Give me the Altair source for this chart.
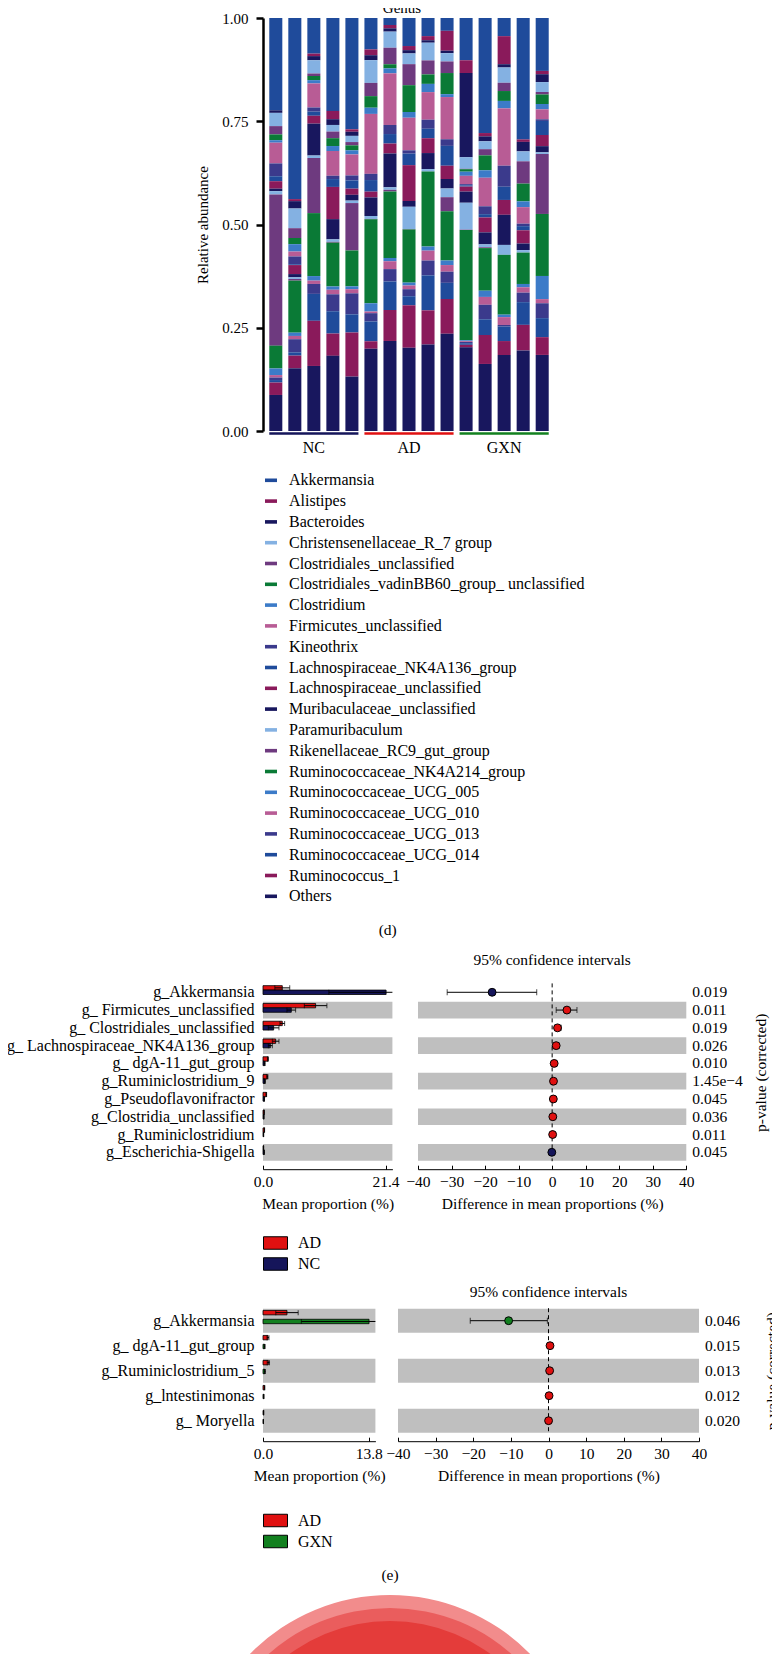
import json
import altair as alt
import pandas as pd

FONT = "Liberation Serif"
RED = "#e01010"
NAVY = "#15155a"
GREEN = "#12801f"
GRAY = "#bfbfbf"

# ---------------- (d) relative abundance at genus level ----------------
genera = [
    "Akkermansia", "Alistipes", "Bacteroides", "Christensenellaceae_R_7 group",
    "Clostridiales_unclassified", "Clostridiales_vadinBB60_group_ unclassified",
    "Clostridium", "Firmicutes_unclassified", "Kineothrix",
    "Lachnospiraceae_NK4A136_group", "Lachnospiraceae_unclassified",
    "Muribaculaceae_unclassified", "Paramuribaculum", "Rikenellaceae_RC9_gut_group",
    "Ruminococcaceae_NK4A214_group", "Ruminococcaceae_UCG_005",
    "Ruminococcaceae_UCG_010", "Ruminococcaceae_UCG_013",
    "Ruminococcaceae_UCG_014", "Ruminococcus_1", "Others",
]
palette9 = ["#1f4b9b", "#8a1a5b", "#18175e", "#84b1e2", "#6e3a7f",
            "#0a7a36", "#3c7bc8", "#b85c95", "#3b3a8c"]
genus_colors = [palette9[i % 9] for i in range(len(genera))]

samples = ["NC1", "NC2", "NC3", "NC4", "NC5", "AD1", "AD2", "AD3", "AD4", "AD5",
           "GXN1", "GXN2", "GXN3", "GXN4", "GXN5"]
groups = ["NC", "AD", "GXN"]
group_first = ["NC1", "AD1", "GXN1"]
group_last = ["NC5", "AD5", "GXN5"]
group_mid = ["NC3", "AD3", "GXN3"]
group_colors = [NAVY, RED, GREEN]

# relative abundance (%) per sample, in the order of `genera`
NC1 = [22.3, 0.0, 0.6, 3.2, 2.0, 1.4, 0.6, 5.0, 3.1, 1.2, 1.8, 0.6, 0.8, 36.5, 5.5, 1.6, 0.6, 0.6, 0.6, 3.0, 8.7]
NC2 = [44.2, 0.5, 1.8, 4.8, 2.4, 1.5, 1.8, 1.2, 1.9, 0.2, 2.2, 0.8, 0.4, 0.4, 12.7, 0.8, 0.8, 3.2, 0.8, 3.1, 15.3]
NC3 = [8.6, 0.6, 1.0, 3.2, 0.6, 1.0, 0.8, 5.8, 1.0, 1.0, 1.9, 7.7, 0.6, 13.3, 15.2, 1.1, 0.8, 2.4, 6.5, 10.9, 15.7]
NC4 = [22.5, 2.0, 1.4, 1.6, 1.6, 1.9, 1.2, 6.0, 0.8, 1.9, 7.8, 4.9, 0.6, 0.2, 10.6, 0.8, 1.1, 4.1, 5.4, 5.4, 18.2]
NC5 = [27.0, 0.6, 1.0, 1.5, 0.8, 1.2, 1.0, 5.1, 1.2, 2.0, 1.5, 1.4, 0.6, 11.5, 8.7, 0.7, 1.0, 5.1, 4.4, 10.7, 13.2]
AD1 = [7.6, 1.4, 1.2, 5.5, 3.2, 2.8, 1.5, 14.5, 1.5, 2.8, 1.4, 4.5, 0.7, 0.1, 20.3, 2.0, 0.4, 2.0, 4.8, 1.8, 19.9]
AD2 = [1.7, 0.8, 0.8, 3.9, 4.0, 1.0, 1.2, 12.5, 2.2, 2.3, 2.4, 8.2, 0.6, 0.4, 16.1, 0.8, 1.9, 3.0, 6.9, 7.5, 21.8]
AD3 = [6.8, 1.0, 0.8, 2.6, 5.1, 6.5, 1.4, 7.9, 0.8, 2.8, 8.7, 1.4, 5.4, 0.1, 12.9, 0.7, 0.9, 1.7, 2.2, 10.3, 20.2]
AD4 = [4.4, 1.0, 0.6, 4.3, 3.4, 2.3, 2.0, 6.7, 2.2, 2.3, 3.6, 3.9, 0.6, 0.0, 18.2, 1.0, 2.4, 3.6, 8.5, 8.3, 21.0]
AD5 = [3.1, 4.8, 0.6, 2.0, 2.8, 5.1, 0.7, 10.2, 1.6, 4.8, 3.2, 2.3, 2.1, 3.4, 11.9, 1.1, 1.6, 2.7, 3.9, 8.4, 23.5]
GXN1 = [10.2, 3.1, 20.3, 2.8, 0.1, 0.6, 1.0, 2.0, 0.3, 0.3, 1.2, 2.7, 6.5, 0.1, 26.6, 0.2, 0.2, 0.3, 0.4, 0.6, 20.2]
GXN2 = [27.8, 0.8, 1.2, 1.9, 1.5, 3.6, 1.8, 6.9, 1.9, 0.8, 3.6, 2.9, 0.7, 0.2, 10.3, 1.5, 1.9, 3.5, 3.8, 7.0, 16.2]
GXN3 = [4.4, 6.8, 0.8, 3.7, 2.0, 2.4, 1.8, 13.9, 5.1, 3.2, 3.6, 7.3, 2.4, 0.0, 14.5, 0.6, 1.9, 0.4, 3.5, 3.4, 18.4]
GXN4 = [29.4, 0.6, 2.3, 2.4, 5.4, 4.3, 1.4, 4.0, 0.6, 1.0, 3.2, 1.6, 0.6, 0.0, 7.6, 0.8, 1.3, 2.3, 5.5, 6.2, 19.5]
GXN5 = [12.8, 0.8, 1.9, 2.4, 0.6, 2.3, 1.3, 2.4, 0.4, 3.4, 2.7, 1.5, 0.4, 14.5, 15.0, 5.6, 1.0, 3.6, 4.6, 4.3, 18.4]
abundance = [NC1, NC2, NC3, NC4, NC5, AD1, AD2, AD3, AD4, AD5, GXN1, GXN2, GXN3, GXN4, GXN5]

# ---------------- (e) STAMP comparisons ----------------
p1_names = ["g_Akkermansia", "g_ Firmicutes_unclassified", "g_ Clostridiales_unclassified",
            "g_ Lachnospiraceae_NK4A136_group", "g_ dgA-11_gut_group", "g_Ruminiclostridium_9",
            "g_Pseudoflavonifractor", "g_Clostridia_unclassified", "g_Ruminiclostridium",
            "g_Escherichia-Shigella"]
p1_ad_mean = [3.37, 9.19, 3.37, 2.21, 0.87, 0.76, 0.58, 0.20, 0.25, 0.10]
p1_ad_sd = [1.30, 1.97, 0.41, 0.58, 0.06, 0.10, 0.05, 0.03, 0.03, 0.02]
p1_nc_mean = [21.5, 4.94, 1.86, 1.28, 0.29, 0.35, 0.23, 0.15, 0.10, 0.20]
p1_nc_sd = [10.0, 0.76, 0.93, 0.35, 0.08, 0.05, 0.03, 0.02, 0.02, 0.05]
p1_diff = [-17.9, 4.4, 1.6, 1.2, 0.6, 0.4, 0.35, 0.2, 0.15, -0.1]
p1_lo = [-31.3, 1.2, 0.75, 0.3, 0.3, 0.2, 0.1, 0.05, 0.05, -0.2]
p1_hi = [-4.6, 7.4, 2.7, 2.1, 0.9, 0.6, 0.6, 0.35, 0.25, 0.0]
p1_p = ["0.019", "0.011", "0.019", "0.026", "0.010", "1.45e\u22124", "0.045", "0.036", "0.011", "0.045"]

p2_names = ["g_Akkermansia", "g_ dgA-11_gut_group", "g_Ruminiclostridium_5",
            "g_lntestinimonas", "g_ Moryella"]
p2_ad_mean = [3.13, 0.65, 0.70, 0.20, 0.08]
p2_ad_sd = [1.46, 0.13, 0.15, 0.04, 0.02]
p2_gxn_mean = [13.84, 0.22, 0.25, 0.10, 0.05]
p2_gxn_sd = [8.84, 0.05, 0.06, 0.02, 0.01]
p2_diff = [-10.6, 0.4, 0.3, 0.15, 0.02]
p2_lo = [-20.8, 0.1, 0.05, 0.0, -0.1]
p2_hi = [-0.3, 0.7, 0.55, 0.3, 0.1]
p2_p = ["0.046", "0.015", "0.013", "0.012", "0.020"]

# next figure (partially visible concentric rings)
ring_names = ["outer", "middle", "inner"]
ring_radius = [100, 93.4, 86.7]
ring_colors = ["#f28c8c", "#ea5d5d", "#e43c3a"]

# =====================================================================
rows = []
for s, vals in zip(samples, abundance):
    for i, (g, v) in enumerate(zip(genera, vals)):
        rows.append({"sample": s, "genus": g, "value": v, "rank": len(genera) - 1 - i})
ab_df = pd.DataFrame(rows)

xs = alt.Scale(domain=samples, paddingInner=0.315, paddingOuter=0.33)
ys = alt.Scale(domain=[0, 1])
xax = alt.Axis(values=group_mid, labelExpr="slice(datum.label, 0, -1)", title=None,
               domain=False, ticks=False, tickSize=0, labelAngle=0, labelFontSize=16,
               labelPadding=8, labelColor="black")

stack_bars = alt.Chart(ab_df).mark_bar().encode(
    x=alt.X("sample:N", scale=xs, axis=xax),
    y=alt.Y("value:Q", stack="normalize", scale=ys,
            axis=alt.Axis(values=[0, 0.25, 0.5, 0.75, 1.0],
                          labelExpr="format(datum.value, '.2f')",
                          title="Relative abundance", grid=False,
                          domainColor="black", domainWidth=2.5, tickColor="black",
                          tickWidth=2.5, tickSize=7, labelFontSize=15, labelPadding=8,
                          labelColor="black", titleFontSize=15, titlePadding=11)),
    color=alt.Color("genus:N", scale=alt.Scale(domain=genera, range=genus_colors),
                    legend=alt.Legend(orient="none", legendX=0, legendY=454.3,
                                      direction="vertical", title=None,
                                      symbolType="M-1,-0.3L1,-0.3L1,0.3L-1,0.3Z",
                                      symbolSize=144, symbolStrokeWidth=0,
                                      labelFontSize=16, labelOffset=10, labelLimit=500,
                                      labelColor="black", rowPadding=4.8, padding=0)),
    order=alt.Order("rank:Q", sort="ascending"),
)

grp_df = pd.DataFrame({"grp": groups, "first": group_first, "last": group_last})
group_lines = alt.Chart(grp_df).mark_rule(strokeWidth=2.5).encode(
    x=alt.X("first:N", scale=xs, axis=xax, bandPosition=0),
    x2=alt.X2("last:N", bandPosition=1),
    y=alt.Y(datum=-0.006, scale=ys),
    stroke=alt.Stroke("grp:N", scale=alt.Scale(domain=groups, range=group_colors), legend=None),
)

stacked = alt.layer(stack_bars, group_lines).properties(
    width=292, height=413,
    title=alt.TitleParams("Genus", fontSize=15, anchor="middle", frame="group", offset=-5, dx=-7),
)


def tick_axis(values, fmt, title, tpad):
    return alt.Axis(orient="bottom", values=values, format=fmt, title=title, domain=False,
                    tickSize=4, tickColor="black", tickWidth=1, offset=4, labelFontSize=15.5,
                    labelPadding=5, labelColor="black", titleFontSize=15.5,
                    titlePadding=tpad, grid=False, labelFlush=False)


line_axis = alt.Axis(orient="bottom", domain=True, domainColor="black", domainWidth=1,
                     offset=8, ticks=False, labels=False, title=None, grid=False)


def mean_panel(names, other, other_color, ad_mean, ad_sd, o_mean, o_sd, xmax, xtick,
               width, height, pin, opad, legY, legRow):
    n = len(names)
    shade = [names[i] for i in range(n) if (n - 1 - i) % 2 == 0]
    ysc = alt.Scale(domain=names, paddingInner=pin, paddingOuter=pin / 2)
    yax = alt.Axis(title=None, domain=False, ticks=False, labelFontSize=16, labelPadding=9,
                   labelLimit=400, labelColor="black")
    Y = alt.Y("genus:N", scale=ysc, axis=yax)
    xsc = alt.Scale(domain=[0, xmax], nice=False, zero=True)
    gdom = ["AD", other]
    YO = alt.YOffset("grp:N", scale=alt.Scale(domain=gdom, paddingInner=0, paddingOuter=opad))
    recs = []
    for i, g in enumerate(names):
        recs.append({"genus": g, "grp": "AD", "mean": ad_mean[i],
                     "lo": ad_mean[i] - ad_sd[i], "hi": ad_mean[i] + ad_sd[i]})
        recs.append({"genus": g, "grp": other, "mean": o_mean[i],
                     "lo": o_mean[i] - o_sd[i], "hi": o_mean[i] + o_sd[i]})
    mdf = pd.DataFrame(recs)
    bg = alt.Chart(pd.DataFrame({"genus": shade})).mark_rect(color=GRAY).encode(
        y=Y,
        x=alt.X(datum=0, scale=xsc, axis=tick_axis([0, xtick], ".1f", "Mean proportion (%)", 7)),
        x2=alt.X2(datum=xmax),
    )
    bars = alt.Chart(mdf).mark_bar(stroke="black", strokeWidth=0.8).encode(
        y=Y, yOffset=YO,
        x=alt.X("mean:Q", scale=xsc, axis=line_axis),
        color=alt.Color("grp:N", scale=alt.Scale(domain=gdom, range=[RED, other_color]),
                        legend=alt.Legend(orient="none", legendX=0, legendY=legY,
                                          direction="vertical", title=None,
                                          symbolType="M-1,-0.52L1,-0.52L1,0.52L-1,0.52Z",
                                          symbolSize=576, symbolStrokeColor="black",
                                          symbolStrokeWidth=1, labelFontSize=16,
                                          labelOffset=10, labelLimit=300, labelColor="black",
                                          rowPadding=legRow, padding=0)),
    )
    err = alt.Chart(mdf).mark_rule(color="black", strokeWidth=1, clip=True).encode(
        y=Y, yOffset=YO, x=alt.X("lo:Q", scale=xsc, axis=None), x2="hi:Q")
    cap_lo = alt.Chart(mdf).mark_tick(color="black", thickness=1, size=5, clip=True).encode(
        y=Y, yOffset=YO, x=alt.X("lo:Q", scale=xsc, axis=None))
    cap_hi = alt.Chart(mdf).mark_tick(color="black", thickness=1, size=5, clip=True).encode(
        y=Y, yOffset=YO, x=alt.X("hi:Q", scale=xsc, axis=None))
    return alt.layer(bg, bars, err, cap_lo, cap_hi).resolve_axis(x="independent").properties(
        width=width, height=height)


def ci_panel(names, other, other_color, diff, lo, hi, pvals, width, height, pin,
             title_offset, ptitle_x):
    n = len(names)
    shade = [names[i] for i in range(n) if (n - 1 - i) % 2 == 0]
    ysc = alt.Scale(domain=names, paddingInner=pin, paddingOuter=pin / 2)
    label_expr = "{}[indexof({}, datum.value)]".format(
        json.dumps(pvals, ensure_ascii=False), json.dumps(names, ensure_ascii=False))
    yax = alt.Axis(orient="right", title="p-value (corrected)", labelExpr=label_expr,
                   domain=False, ticks=False, labelFontSize=15.5, labelPadding=5.5,
                   labelLimit=300, labelColor="black", titleFontSize=15.5, titleAngle=270,
                   titleX=ptitle_x, titleY=height / 2, titleAlign="center",
                   titleBaseline="middle")
    Y = alt.Y("genus:N", scale=ysc, axis=yax)
    xsc = alt.Scale(domain=[-40, 40], nice=False, zero=False)
    cdf = pd.DataFrame({"genus": names, "diff": diff, "lo": lo, "hi": hi,
                        "higher": ["AD" if d >= 0 else other for d in diff]})
    bg = alt.Chart(pd.DataFrame({"genus": shade})).mark_rect(color=GRAY).encode(
        y=Y,
        x=alt.X(datum=-40, scale=xsc,
                axis=tick_axis(list(range(-40, 41, 10)), "d",
                               "Difference in mean proportions (%)", 7)),
        x2=alt.X2(datum=40),
    )
    zero = alt.Chart(pd.DataFrame({"genus": [names[0]]})).mark_rule(
        color="black", strokeDash=[4, 3], strokeWidth=1).encode(
        x=alt.X(datum=0, scale=xsc, axis=None))
    err = alt.Chart(cdf).mark_rule(color="black", strokeWidth=1).encode(
        y=Y, x=alt.X("lo:Q", scale=xsc, axis=None), x2="hi:Q")
    cap_lo = alt.Chart(cdf).mark_tick(color="black", thickness=1, size=6).encode(
        y=Y, x=alt.X("lo:Q", scale=xsc, axis=None))
    cap_hi = alt.Chart(cdf).mark_tick(color="black", thickness=1, size=6).encode(
        y=Y, x=alt.X("hi:Q", scale=xsc, axis=None))
    pts = alt.Chart(cdf).mark_circle(size=62, opacity=1, stroke="black", strokeWidth=1).encode(
        y=Y, x=alt.X("diff:Q", scale=xsc, axis=line_axis),
        fill=alt.Fill("higher:N", scale=alt.Scale(domain=["AD", other], range=[RED, other_color]),
                      legend=None),
    )
    return alt.layer(bg, zero, err, cap_lo, cap_hi, pts).resolve_axis(x="independent").properties(
        width=width, height=height,
        title=alt.TitleParams("95% confidence intervals", fontSize=15.5, anchor="middle",
                              frame="group", offset=title_offset),
    )


bar1 = mean_panel(p1_names, "NC", NAVY, p1_ad_mean, p1_ad_sd, p1_nc_mean, p1_nc_sd,
                  22.6, 21.4, 129.4, 177.8, 0.06, 0.39, 247.1, -4.3)
ci1 = ci_panel(p1_names, "NC", NAVY, p1_diff, p1_lo, p1_hi, p1_p, 268.3, 177.8, 0.06, 14.5, 74)
bar2 = mean_panel(p2_names, "GXN", GREEN, p2_ad_mean, p2_ad_sd, p2_gxn_mean, p2_gxn_sd,
                  14.67, 13.8, 112.4, 125, 0.04, 0.54, 199.8, -3)
ci2 = ci_panel(p2_names, "GXN", GREEN, p2_diff, p2_lo, p2_hi, p2_p, 301, 125, 0.04, 7, 72)

ring_df = pd.DataFrame({"ring": ring_names, "r": ring_radius, "full": [1, 1, 1]})
rings = alt.Chart(ring_df).mark_arc().encode(
    theta=alt.Theta("full:Q", stack=False, scale=alt.Scale(domain=[0, 1], range=[0, 6.2832])),
    radius=alt.Radius("r:Q", scale=alt.Scale(type="linear", domain=[0, 100], range=[0, 196],
                                             zero=True)),
    color=alt.Color("ring:N", scale=alt.Scale(domain=ring_names, range=ring_colors), legend=None),
    order=alt.Order("r:Q", sort="descending"),
).properties(width=254, height=392,
             title=alt.TitleParams("(e)", fontSize=15.5, anchor="middle", offset=12))

# nested concat groups count as zero height in a flush layout, so the spacing
# after a panel row is measured from that row's top edge
panel1 = alt.hconcat(bar1, ci1, spacing=25, bounds="flush",
                     title=alt.TitleParams("(d)", fontSize=15.5, anchor="middle", offset=14)
                     ).resolve_scale(color="independent", fill="independent")
panel2 = alt.hconcat(bar2, ci2, spacing=22, bounds="flush").resolve_scale(
    color="independent", fill="independent")
lower2 = alt.vconcat(panel2, rings, spacing=286.8, bounds="flush").resolve_scale(
    color="independent", fill="independent", stroke="independent")
lower1 = alt.vconcat(panel1, lower2, spacing=324.8, bounds="flush").resolve_scale(
    color="independent", fill="independent", stroke="independent")
chart = alt.vconcat(stacked, lower1, spacing=552.4, bounds="flush").resolve_scale(
    color="independent", fill="independent", stroke="independent"
).properties(
    padding={"left": 255, "top": 10, "right": 509, "bottom": 1636},
    autosize=alt.AutoSizeParams(type="none"),
).configure(font=FONT).configure_view(stroke=None).configure_axis(
    labelFont=FONT, titleFont=FONT, labelColor="black", titleColor="black",
    titleFontWeight="normal", grid=False
).configure_legend(labelFont=FONT).configure_title(font=FONT, fontWeight="normal", color="black")

chart.save("out.html", embed_options={"renderer": "svg", "actions": False})
